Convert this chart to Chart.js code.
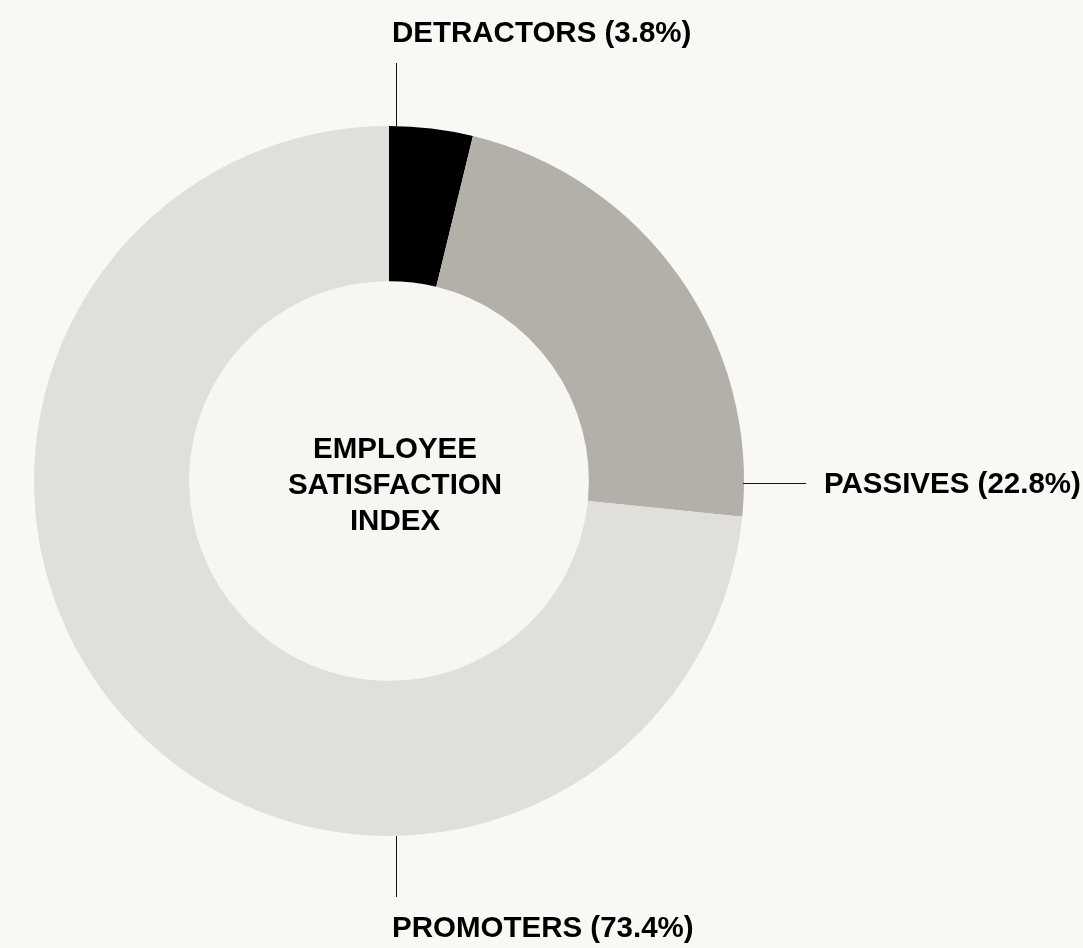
<!DOCTYPE html>
<html>
<head>
    <title>Employee Satisfaction Index</title>
    <script src="https://cdn.jsdelivr.net/npm/chart.js"></script>
    <style>
        html, body { margin: 0; padding: 0; background: #f8f8f4; }
        #satisfactionChart { display: block; }
    </style>
</head>
<body>
    <canvas id="satisfactionChart" width="1083" height="948"></canvas>
    <script>
        const categories = ['DETRACTORS', 'PASSIVES', 'PROMOTERS'];
        const shares = [3.8, 22.8, 73.4];
        const colors = ['#000000', '#b3b0aa', '#e0dfdb'];
        // where each callout sits around the ring
        const labelSides = ['top', 'right', 'bottom'];
        const centerLines = ['EMPLOYEE', 'SATISFACTION', 'INDEX'];

        const FONT = 'bold 29.5px "Helvetica Neue", Helvetica, Arial, "Liberation Sans", sans-serif';

        const calloutPlugin = {
            id: 'callouts',
            beforeDatasetsDraw(chart) {
                const arc = chart.getDatasetMeta(0).data[0];
                const c = chart.ctx;
                c.save();
                c.fillStyle = '#f7f6f3';
                c.beginPath();
                c.arc(arc.x, arc.y, arc.innerRadius, 0, Math.PI * 2);
                c.fill();
                c.restore();
            },
            afterDraw(chart) {
                const arc = chart.getDatasetMeta(0).data[0];
                const cx = arc.x, cy = arc.y, r = arc.outerRadius;
                const c = chart.ctx;
                c.save();
                c.strokeStyle = '#111';
                c.lineWidth = 1;
                c.fillStyle = '#000';
                c.font = FONT;
                c.textBaseline = 'alphabetic';

                categories.forEach((name, i) => {
                    const text = name + ' (' + shares[i] + '%)';
                    const side = labelSides[i];
                    c.beginPath();
                    if (side === 'top') {
                        c.moveTo(cx + 7.5, cy - r);
                        c.lineTo(cx + 7.5, cy - r - 63);
                        c.stroke();
                        c.textAlign = 'left';
                        c.fillText(text, cx + 3, cy - 439);
                    } else if (side === 'right') {
                        c.moveTo(cx + r - 1, cy + 2.5);
                        c.lineTo(cx + r + 62, cy + 2.5);
                        c.stroke();
                        c.textAlign = 'left';
                        c.fillText(text, cx + 435, cy + 12);
                    } else {
                        c.moveTo(cx + 7.5, cy + r);
                        c.lineTo(cx + 7.5, cy + r + 61);
                        c.stroke();
                        c.textAlign = 'left';
                        c.fillText(text, cx + 3, cy + 456);
                    }
                });

                c.textAlign = 'center';
                centerLines.forEach((line, i) => {
                    c.fillText(line, cx + 6, cy - 23 + i * 36);
                });
                c.restore();
            }
        };

        const ctx = document.getElementById('satisfactionChart').getContext('2d');
        const satisfactionChart = new Chart(ctx, {
            type: 'doughnut',
            data: {
                labels: categories,
                datasets: [{
                    data: shares,
                    backgroundColor: colors,
                    borderWidth: 0
                }]
            },
            options: {
                responsive: false,
                animation: false,
                cutout: '56.3%',
                layout: {
                    padding: { left: 34, right: 339, top: 126, bottom: 112 }
                },
                plugins: {
                    legend: { display: false },
                    tooltip: { enabled: false }
                }
            },
            plugins: [calloutPlugin]
        });
    </script>
</body>
</html>
